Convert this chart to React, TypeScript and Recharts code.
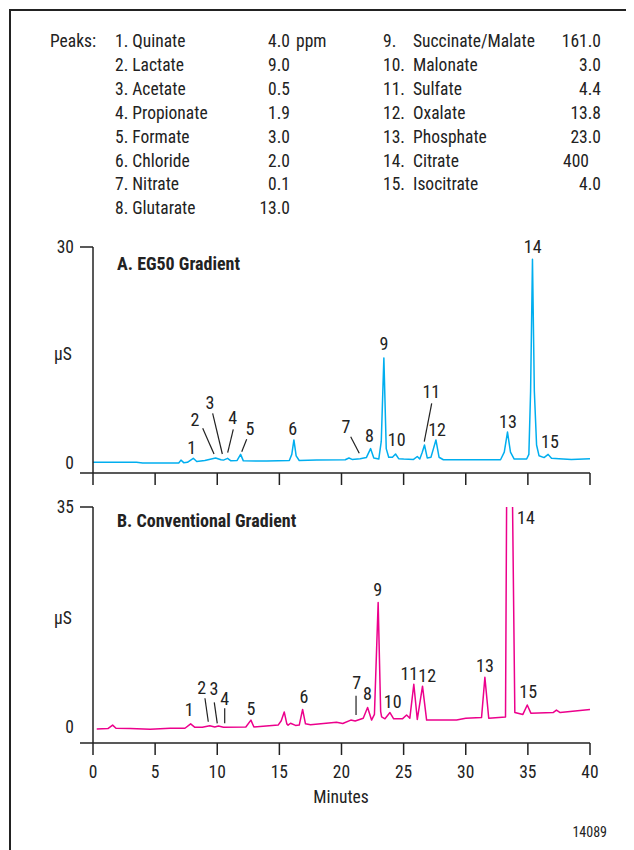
import React from 'react';
import {
  LineChart,
  Line,
  XAxis,
  YAxis,
  ReferenceDot,
  ReferenceLine,
} from 'recharts';

const FONT =
  "'Liberation Sans Narrow', 'Arial Narrow', 'Roboto Condensed', 'DejaVu Sans Condensed', 'Nimbus Sans Narrow', sans-serif";
const INK = '#222';
const CYAN = '#00aeef';
const MAGENTA = '#ec008c';
const TEXT_SIZE = 17.5;

// ---- Peak list ----
const peakNamesLeft = [
  '1. Quinate',
  '2. Lactate',
  '3. Acetate',
  '4. Propionate',
  '5. Formate',
  '6. Chloride',
  '7. Nitrate',
  '8. Glutarate',
];
const peakConcLeft = ['4.0', '9.0', '0.5', '1.9', '3.0', '2.0', '0.1', '13.0'];
const peakNumsRight = ['9.', '10.', '11.', '12.', '13.', '14.', '15.'];
const peakNamesRight = [
  'Succinate/Malate',
  'Malonate',
  'Sulfate',
  'Oxalate',
  'Phosphate',
  'Citrate',
  'Isocitrate',
];
const peakConcRight = ['161.0', '3.0', '4.4', '13.8', '23.0', '400', '4.0'];

// ---- Axes ----
const minuteTicks = [0, 5, 10, 15, 20, 25, 30, 35, 40];
const eg50Max = 30;
const convMax = 35;

// ---- A. EG50 gradient trace: minutes, µS ----
const eg50Minutes = [
  0, 3.5, 4, 6.9, 7.08, 7.3, 7.6, 8.07, 8.35, 9.0, 9.87, 10.3, 10.5, 10.83, 11.1, 11.6, 11.88, 12.1,
  14, 15.8, 16.0, 16.17, 16.35, 16.6, 18, 20.3, 20.6, 20.85, 21.5, 22.0, 22.34, 22.6, 23.0, 23.2,
  23.41, 23.6, 23.8, 24.1, 24.35, 24.6, 25.0, 25.8, 26.1, 26.3, 26.5, 26.68, 26.9, 27.2, 27.4, 27.6,
  27.85, 28.2, 32.8, 33.1, 33.36, 33.6, 33.9, 34.9, 35.08, 35.22, 35.37, 35.52, 35.7, 35.9, 36.3,
  36.63, 36.9, 37.5, 38.5, 40,
];
const eg50Signal = [
  0.1, 0.1, 0.0, 0.0, 0.4, 0.05, 0.1, 0.65, 0.2, 0.35, 0.7, 0.45, 0.4, 0.65, 0.3, 0.35, 1.2, 0.3,
  0.28, 0.35, 1.2, 3.2, 1.0, 0.35, 0.4, 0.45, 0.7, 0.5, 0.6, 0.75, 2.0, 0.7, 0.55, 3.0,
  14.6, 2.0, 0.8, 0.8, 1.25, 0.6, 0.55, 0.5, 0.9, 0.55, 1.5, 2.5, 0.7, 0.8, 2.0, 3.2,
  0.8, 0.45, 0.45, 1.5, 4.3, 1.5, 0.55, 0.55, 1.2, 10, 28.3, 10, 2.5, 1.0, 0.75,
  1.2, 0.65, 0.6, 0.5, 0.6,
];

// ---- B. Conventional gradient trace: minutes, µS ----
const convMinutes = [
  0.3, 1.2, 1.58, 1.85, 3, 4.6, 6.2, 7.4, 7.86, 8.2, 8.8, 9.4, 9.8, 10.1, 10.5, 12.3, 12.71, 12.95,
  14.9, 15.15, 15.39, 15.6, 15.7, 15.9, 16.3, 16.6, 16.87, 17.1, 17.5, 19.6, 20.1, 20.75, 21.1,
  21.75, 22.1, 22.42, 22.65, 22.95, 23.15, 23.23, 23.5, 23.9, 24.2, 24.9, 25.24, 25.5, 25.82, 26.1,
  26.52, 26.85, 29.26, 30.0, 31.27, 31.54, 31.85, 33.2, 33.3, 33.74, 33.95, 34.6, 34.95, 35.24,
  37.03, 37.3, 37.6, 40,
];
const convSignal = [
  -0.3, -0.25, 0.3, -0.2, -0.25, -0.37, -0.2, -0.2, 0.5, -0.05, -0.05, 0.2, 0.0, 0.15, -0.05, 0.0, 1.1, 0.0,
  0.3, 1.0, 2.4, 0.5, 0.3, 0.6, 0.25, 0.3, 2.8, 0.5, 0.37, 0.75, 0.55, 1.1, 0.95,
  1.4, 3.1, 1.1, 2.0, 19.8, 2.5, 1.6, 1.3, 2.3, 1.3, 1.3, 1.9, 1.4, 6.8, 1.2,
  6.5, 1.1, 1.1, 1.4, 1.5, 7.9, 1.4, 1.6, 40, 40, 2.3, 2.0, 3.5, 2.2,
  2.3, 2.7, 2.3, 2.8,
];

// ---- Peak number callouts (label position, optional leader line) ----
type Callout = { text: string; t: number; v: number; lead?: [number, number, number, number] };

const eg50Callouts: Callout[] = [
  { text: '1', t: 7.94, v: 2.18 },
  { text: '2', t: 8.21, v: 5.97, lead: [8.83, 4.82, 9.74, 1.25] },
  { text: '3', t: 9.42, v: 8.38, lead: [9.63, 6.9, 10.41, 1.25] },
  { text: '4', t: 11.24, v: 6.29, lead: [11.29, 4.68, 10.84, 1.43] },
  { text: '5', t: 12.64, v: 4.82, lead: [12.37, 3.29, 11.97, 1.57] },
  { text: '6', t: 16.07, v: 4.82 },
  { text: '7', t: 20.36, v: 5.04, lead: [20.74, 3.65, 21.43, 1.35] },
  { text: '8', t: 22.24, v: 3.75 },
  { text: '9', t: 23.42, v: 16.6 },
  { text: '10', t: 24.44, v: 3.2 },
  { text: '11', t: 27.23, v: 9.9, lead: [27.26, 8.29, 26.66, 2.96] },
  { text: '12', t: 27.69, v: 4.58 },
  { text: '13', t: 33.4, v: 5.69 },
  { text: '14', t: 35.39, v: 30.04 },
  { text: '15', t: 36.78, v: 2.92 },
];

const convCallouts: Callout[] = [
  { text: '1', t: 7.75, v: 2.7 },
  { text: '2', t: 8.75, v: 6.3, lead: [9.01, 4.57, 9.28, 0.84] },
  { text: '3', t: 9.74, v: 6.05, lead: [9.76, 3.93, 10.0, 0.59] },
  { text: '4', t: 10.6, v: 4.57, lead: [10.6, 2.97, 10.6, 0.59] },
  { text: '5', t: 12.72, v: 2.97 },
  { text: '6', t: 16.98, v: 4.82 },
  { text: '7', t: 21.22, v: 7.05, lead: [21.17, 4.98, 21.17, 1.91] },
  { text: '8', t: 22.08, v: 5.36 },
  { text: '9', t: 22.91, v: 21.9 },
  { text: '10', t: 24.12, v: 4.02 },
  { text: '11', t: 25.46, v: 8.43 },
  { text: '12', t: 26.9, v: 8.22 },
  { text: '13', t: 31.55, v: 9.82 },
  { text: '14', t: 34.85, v: 33.36 },
  { text: '15', t: 35.03, v: 5.62 },
];

const eg50Data = eg50Minutes.map((t, i) => ({ t, v: eg50Signal[i] }));
const convData = convMinutes.map((t, i) => ({ t, v: convSignal[i] }));

// Places a line of text with its anchor at (x, y) in page coordinates.
function Txt(props: {
  x: number;
  y: number;
  align?: 'left' | 'right' | 'center';
  size?: number;
  bold?: boolean;
  children: React.ReactNode;
}) {
  const { x, y, align = 'left', size = TEXT_SIZE, bold, children } = props;
  const tx = align === 'right' ? '-100%' : align === 'center' ? '-50%' : '0';
  return (
    <div
      style={{
        position: 'absolute',
        left: x - 8,
        top: y - 8,
        transform: `translate(${tx}, -50%)`,
        fontFamily: FONT,
        fontSize: size,
        fontWeight: bold ? 700 : 400,
        lineHeight: 1,
        whiteSpace: 'nowrap',
        color: INK,
      }}
    >
      {children}
    </div>
  );
}

// Y ticks: the lowest tick only extends the baseline leftwards; the top tick has a stub and label.
function makeYTick(bottom: number, top: number) {
  return (p: any) => {
    const { x, y, payload } = p;
    const val = payload.value;
    const axisX = x + 19;
    if (val === bottom) {
      return <line x1={axisX - 13} x2={axisX} y1={y} y2={y} stroke={INK} strokeWidth={1.5} />;
    }
    return (
      <g>
        {val === top && <line x1={axisX - 13} x2={axisX} y1={y} y2={y} stroke={INK} strokeWidth={1.5} />}
        <text x={x} y={y} textAnchor="end" dominantBaseline="central" fontFamily={FONT} fontSize={TEXT_SIZE} fill={INK}>
          {val}
        </text>
      </g>
    );
  };
}

const NoLabel = () => <g />;

function renderCallouts(list: Callout[], prefix: string) {
  const out: React.ReactNode[] = [];
  list.forEach((c, i) => {
    if (c.lead) {
      out.push(
        <ReferenceLine
          key={`${prefix}-l${i}`}
          segment={[
            { x: c.lead[0], y: c.lead[1] },
            { x: c.lead[2], y: c.lead[3] },
          ]}
          stroke={INK}
          strokeWidth={1.2}
          ifOverflow="visible"
        />
      );
    }
    out.push(
      <ReferenceDot
        key={`${prefix}-d${i}`}
        x={c.t}
        y={c.v}
        r={0}
        fill="none"
        stroke="none"
        ifOverflow="visible"
        label={{ value: c.text, position: 'center', fill: INK, fontSize: 18, fontFamily: FONT }}
      />
    );
  });
  return out;
}

function Panel(props: {
  data: { t: number; v: number }[];
  color: string;
  top: number;
  height: number;
  yMin: number;
  yMax: number;
  bottomMargin: number;
  xAxisHeight: number;
  showXLabels: boolean;
  callouts: Callout[];
  id: string;
}) {
  const { data, color, top, height, yMin, yMax, bottomMargin, xAxisHeight, showXLabels, callouts, id } = props;
  return (
    <div style={{ position: 'absolute', left: 0, top: top - 8 }}>
      <LineChart
        width={626}
        height={height}
        data={data}
        margin={{ top: 17, right: 44, left: 45, bottom: bottomMargin }}
      >
        <XAxis
          dataKey="t"
          type="number"
          domain={[0, 40]}
          ticks={minuteTicks}
          interval={0}
          height={xAxisHeight}
          stroke={INK}
          axisLine={{ stroke: INK, strokeWidth: 1.5 }}
          tickLine={{ stroke: INK, strokeWidth: 1.5 }}
          tickSize={12}
          tickMargin={11}
          tick={showXLabels ? { fill: INK, fontSize: TEXT_SIZE, fontFamily: FONT } : NoLabel}
        />
        <YAxis
          type="number"
          dataKey="v"
          width={40}
          domain={[yMin, yMax]}
          ticks={[yMin, 0, yMax]}
          interval={0}
          allowDataOverflow
          stroke={INK}
          axisLine={{ stroke: INK, strokeWidth: 1.5 }}
          tickLine={false}
          tickSize={13}
          tickMargin={6}
          tick={makeYTick(yMin, yMax)}
        />
        <Line
          type="linear"
          dataKey="v"
          stroke={color}
          strokeWidth={1.5}
          dot={false}
          activeDot={false}
          isAnimationActive={false}
          strokeLinejoin="round"
        />
        {renderCallouts(callouts, id)}
      </LineChart>
    </div>
  );
}

export default function App() {
  const rowY = (i: number) => 42 + i * 23.9;
  return (
    <div style={{ position: 'relative', width: 626, height: 842, overflow: 'hidden' }}>
      <div
        style={{
          position: 'absolute',
          left: 1,
          top: 1,
          width: 700,
          height: 900,
          borderTop: `2px solid ${INK}`,
          borderLeft: `2px solid ${INK}`,
        }}
      />

      <Txt x={50} y={rowY(0)}>Peaks:</Txt>
      {peakNamesLeft.map((n, i) => (
        <Txt key={`nl${i}`} x={115} y={rowY(i)}>
          {n}
        </Txt>
      ))}
      {peakConcLeft.map((c, i) => (
        <Txt key={`cl${i}`} x={290} y={rowY(i)} align="right">
          {c}
        </Txt>
      ))}
      <Txt x={296} y={rowY(0)}>ppm</Txt>
      {peakNumsRight.map((n, i) => (
        <Txt key={`kr${i}`} x={383} y={rowY(i)}>
          {n}
        </Txt>
      ))}
      {peakNamesRight.map((n, i) => (
        <Txt key={`nr${i}`} x={413} y={rowY(i)}>
          {n}
        </Txt>
      ))}
      {peakConcRight.map((c, i) =>
        c === '400' ? (
          <Txt key={`cr${i}`} x={563} y={rowY(i)}>
            {c}
          </Txt>
        ) : (
          <Txt key={`cr${i}`} x={601} y={rowY(i)} align="right">
            {c}
          </Txt>
        )
      )}

      <Panel
        id="a"
        data={eg50Data}
        color={CYAN}
        top={230}
        height={270}
        yMin={-10 / 7.2}
        yMax={eg50Max}
        bottomMargin={7}
        xAxisHeight={20}
        showXLabels={false}
        callouts={eg50Callouts}
      />
      <Panel
        id="b"
        data={convData}
        color={MAGENTA}
        top={490}
        height={330}
        yMin={-16 / (220 / 35)}
        yMax={convMax}
        bottomMargin={37}
        xAxisHeight={40}
        showXLabels={true}
        callouts={convCallouts}
      />

      <Txt x={117} y={264} size={18} bold>
        A. EG50 Gradient
      </Txt>
      <Txt x={117} y={521} size={18} bold>
        B. Conventional Gradient
      </Txt>
      <Txt x={63} y={355} align="center">
        µS
      </Txt>
      <Txt x={63} y={619} align="center">
        µS
      </Txt>
      <Txt x={341} y={798} align="center">
        Minutes
      </Txt>
      <Txt x={607} y={832} align="right" size={14}>
        14089
      </Txt>
    </div>
  );
}
